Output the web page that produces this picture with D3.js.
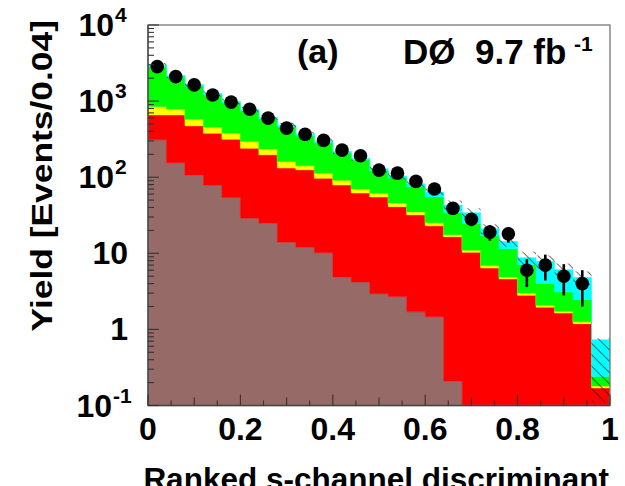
<!DOCTYPE html>
<html>
<head>
<meta charset="utf-8">
<script src="https://cdn.jsdelivr.net/npm/d3@7"></script>
<style>
  body { margin: 0; background: #fff; }
  svg { display: block; font-family: "Liberation Sans", Arial, sans-serif; font-weight: bold; }
</style>
</head>
<body>
<svg id="chart" width="625" height="486"></svg>
<script>
// lower edge of every bin (bin width 0.04)
const binLow = [0.00, 0.04, 0.08, 0.12, 0.16, 0.20, 0.24, 0.28, 0.32, 0.36, 0.40, 0.44, 0.48,
                0.52, 0.56, 0.60, 0.64, 0.68, 0.72, 0.76, 0.80, 0.84, 0.88, 0.92, 0.96];
const binWidth = 0.04;

// stacked backgrounds, bottom to top
const multijet = [310, 155, 107, 79, 54, 29, 25, 14, 12, 10.2, 4.9, 4.2, 2.95, 2.7, 1.7, 1.47, 0.21, 0, 0, 0, 0, 0, 0, 0, 0];
const wjets    = [349, 504, 366, 300, 262, 212, 172, 118, 113, 86.8, 74.1, 57.8, 52, 38.3, 30.3, 21.5, 16.3, 10.3, 6.4, 4.6, 2.8, 1.96, 1.64, 1.19, 0.17];
const zjets    = [188, 124, 105, 75, 63, 53, 37, 29, 16, 16, 12, 8, 6.5, 4.7, 3, 2.2, 1.0, 0.7, 0.5, 0.3, 0.2, 0.12, 0.09, 0.07, 0.01];
const ttbar    = [1965, 1297, 1007, 751, 567, 449, 350, 297, 208, 170, 118, 99, 59.5, 52.3, 40, 29.8, 16.5, 13.5, 10.1, 6.6, 4.1, 1.92, 1.37, 1.2, 0.06];
const signal   = [130, 93, 71, 57, 45, 35, 27, 22, 17, 13, 10, 8, 8, 6, 7, 9, 9, 9.5, 4, 2.8, 1.65, 3.8, 3.0, 2.34, 0.49];

// observed data
const observed = [2838, 2099, 1633, 1205, 968, 783, 597, 441, 366, 305, 227, 191, 124, 113, 88, 70, 39, 28, 19, 18, 6, 7, 5, 4, null];
const obsErr   = [53, 46, 40, 35, 31, 28, 24, 21, 19, 17.5, 15, 14, 11, 10.6, 9.4, 8.4, 6.2, 5.3, 4.4, 4.2, 2.4, 2.6, 2.2, 2.0, null];

// relative uncertainty of the prediction (hatched band)
const uncUp   = [0.08, 0.08, 0.08, 0.08, 0.08, 0.08, 0.08, 0.08, 0.08, 0.08, 0.08, 0.08, 0.1, 0.1, 0.1, 0.1, 0.15, 0.15, 0.15, 0.15, 0.2, 0.2, 0.2, 0.2, 0.05];
const uncDown = [0.08, 0.08, 0.08, 0.08, 0.08, 0.08, 0.08, 0.08, 0.08, 0.08, 0.08, 0.08, 0.1, 0.1, 0.1, 0.1, 0.15, 0.15, 0.15, 0.15, 0.2, 0.2, 0.2, 0.2, 0.85];

const yTickLabels = [
  { v: 1e4, base: "10", exp: "4" },
  { v: 1e3, base: "10", exp: "3" },
  { v: 1e2, base: "10", exp: "2" },
  { v: 10, base: "10", exp: "" },
  { v: 1, base: "1", exp: "" },
  { v: 0.1, base: "10", exp: "-1" }
];
const xTickLabels = ["0", "0.2", "0.4", "0.6", "0.8", "1"];

const layers = [
  { data: multijet, color: "#966a66" },
  { data: wjets, color: "#ff0000" },
  { data: zjets, color: "#ffff00" },
  { data: ttbar, color: "#00ff00" },
  { data: signal, color: "#00ffff" }
];

const margin = { top: 25, right: 15, bottom: 80, left: 148 };
const width = 625, height = 486;
const innerWidth = width - margin.left - margin.right;
const innerHeight = height - margin.top - margin.bottom - 0.5;

const svg = d3.select("#chart");

const x = d3.scaleLinear().domain([0, 1]).range([0, innerWidth]);
const y = d3.scaleLog().domain([0.1, 1e4]).range([innerHeight, 0]).clamp(true);
const ys = v => y(Math.max(v, 0.05));

const defs = svg.append("defs");
defs.append("clipPath").attr("id", "plotclip")
  .append("rect").attr("width", innerWidth).attr("height", innerHeight);
const hatch = defs.append("pattern")
  .attr("id", "hatch")
  .attr("patternUnits", "userSpaceOnUse")
  .attr("width", 8).attr("height", 8)
  .attr("patternTransform", "rotate(-45)");
hatch.append("line")
  .attr("x1", 0).attr("y1", 0).attr("x2", 0).attr("y2", 8)
  .attr("stroke", "#222").attr("stroke-width", 1.3);

const g = svg.append("g").attr("transform", `translate(${margin.left},${margin.top})`);
const plot = g.append("g").attr("clip-path", "url(#plotclip)");

// build stacked step areas
const area = d3.area()
  .curve(d3.curveStepAfter)
  .x(d => x(d.x))
  .y0(d => ys(d.y0))
  .y1(d => ys(d.y1));

let base = binLow.map(() => 0);
layers.forEach(layer => {
  const pts = binLow.map((b, i) => ({ x: b, y0: base[i], y1: base[i] + layer.data[i] }));
  pts.push({ x: binLow[binLow.length - 1] + binWidth, y0: pts[pts.length - 1].y0, y1: pts[pts.length - 1].y1 });
  plot.append("path")
    .attr("d", area(pts))
    .attr("fill", layer.color)
    .attr("stroke", layer.color)
    .attr("stroke-width", 0.5);
  base = base.map((v, i) => v + layer.data[i]);
});

// uncertainty band
const bandPts = binLow.map((b, i) => ({ x: b, y0: base[i] * (1 - uncDown[i]), y1: base[i] * (1 + uncUp[i]) }));
bandPts.push({ x: 1, y0: bandPts[bandPts.length - 1].y0, y1: bandPts[bandPts.length - 1].y1 });
plot.append("path")
  .attr("d", area(bandPts))
  .attr("fill", "url(#hatch)");

// data points
binLow.forEach((b, i) => {
  if (observed[i] == null) return;
  const cx = x(b + binWidth / 2);
  g.append("line")
    .attr("x1", cx).attr("x2", cx)
    .attr("y1", ys(observed[i] - obsErr[i]))
    .attr("y2", ys(observed[i] + obsErr[i]))
    .attr("stroke", "#000").attr("stroke-width", 2.6);
  g.append("circle")
    .attr("cx", cx).attr("cy", y(observed[i]))
    .attr("r", 6.8).attr("fill", "#000");
});

// frame
g.append("rect")
  .attr("width", innerWidth).attr("height", innerHeight)
  .attr("fill", "none").attr("stroke", "#777").attr("stroke-width", 1.3);
g.append("line").attr("x1", 0).attr("x2", 0).attr("y1", 0).attr("y2", innerHeight)
  .attr("stroke", "#444").attr("stroke-width", 1.3);
g.append("line").attr("x1", 0).attr("x2", innerWidth).attr("y1", innerHeight).attr("y2", innerHeight)
  .attr("stroke", "#444").attr("stroke-width", 1.3);

// y ticks (inside, log)
y.ticks().forEach(t => {
  const major = Math.abs(Math.log10(t) - Math.round(Math.log10(t))) < 1e-6;
  g.append("line")
    .attr("x1", 0).attr("x2", major ? 11 : 6)
    .attr("y1", y(t)).attr("y2", y(t))
    .attr("stroke", "#333").attr("stroke-width", 1.1);
});

// x ticks (inside)
x.ticks(20).forEach(t => {
  const k = Math.round(t * 20);
  const len = k % 4 === 0 ? 11 : (k % 2 === 0 ? 8 : 5);
  g.append("line")
    .attr("x1", x(t)).attr("x2", x(t))
    .attr("y1", innerHeight).attr("y2", innerHeight - len)
    .attr("stroke", "#333").attr("stroke-width", 1.1);
});

// y labels
yTickLabels.forEach(d => {
  g.append("text")
    .attr("x", d.exp ? -34 + (d.exp.length > 1 ? -2 : 0) : -20)
    .attr("y", y(d.v) + 11)
    .attr("text-anchor", "end")
    .style("font-size", "32px")
    .text(d.base);
  if (d.exp) {
    g.append("text")
      .attr("x", -33 + (d.exp.length > 1 ? -2 : 0))
      .attr("y", y(d.v) - 3)
      .attr("text-anchor", "start")
      .style("font-size", "21px")
      .text(d.exp);
  }
});

// x labels
xTickLabels.forEach((s, i) => {
  g.append("text")
    .attr("x", x(i * 0.2))
    .attr("y", innerHeight + 34)
    .attr("text-anchor", "middle")
    .style("font-size", "32px")
    .text(s);
});

// axis titles
svg.append("text")
  .attr("x", 609).attr("y", 490)
  .attr("text-anchor", "end")
  .style("font-size", "31.5px")
  .text("Ranked s-channel discriminant");

svg.append("text")
  .attr("transform", "translate(52,20) rotate(-90) scale(1.18,1)")
  .attr("text-anchor", "end")
  .style("font-size", "30px")
  .text("Yield [Events/0.04]");

// labels inside the frame
svg.append("text")
  .attr("x", 297).attr("y", 63)
  .style("font-size", "34px")
  .text("(a)");
svg.append("text")
  .attr("x", 403).attr("y", 64)
  .style("font-size", "35px")
  .style("white-space", "pre")
  .text("DØ  9.7 fb");
svg.append("text")
  .attr("x", 574).attr("y", 51)
  .style("font-size", "21px")
  .text("-1");
</script>
</body>
</html>
